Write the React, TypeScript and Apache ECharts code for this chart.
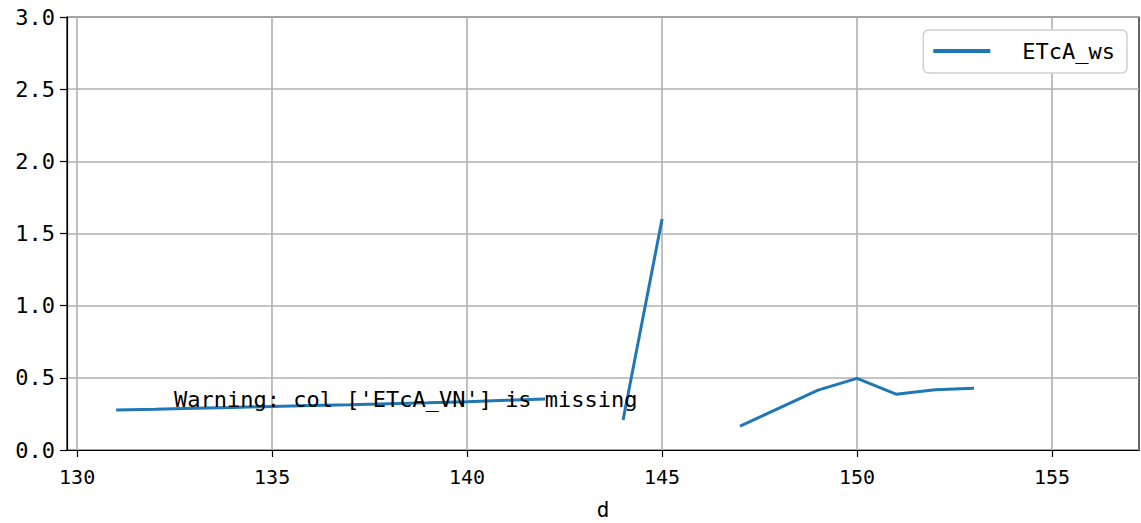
import React, { useEffect, useRef } from "react";
import * as echarts from "echarts";

const days = [131, 132, 133, 134, 135, 136, 137, 138, 139, 140, 141, 142, 143, 144, 145, 146, 147, 148, 149, 150, 151, 152, 153];
const etcaWs: (number | null)[] = [0.278, 0.283, 0.289, 0.295, 0.302, 0.308, 0.314, 0.321, 0.327, 0.334, 0.344, 0.354, null, 0.208, 1.6, null, 0.166, 0.29, 0.415, 0.496, 0.387, 0.418, 0.428];
const xTicks = [130, 135, 140, 145, 150, 155];
const seriesName = "ETcA_ws";
const xName = "d";
const warningText = "Warning: col ['ETcA_VN'] is missing";

const FONT = "DejaVu Sans Mono";

export default function App() {
  const ref = useRef<HTMLDivElement>(null);
  useEffect(() => {
    document.body.style.margin = "0";
    const chart = echarts.init(ref.current!, null, { renderer: "svg" });
    chart.setOption({
      animation: false,
      backgroundColor: "#ffffff",
      grid: {
        left: 67,
        right: 2,
        top: 17,
        bottom: 73,
        outerBoundsMode: "none",
        containLabel: false,
        show: true,
        borderColor: "#000000",
        borderWidth: 1.2,
        backgroundColor: "transparent",
      },
      legend: {
        right: 14,
        top: 30,
        itemWidth: 57,
        itemHeight: 4,
        padding: [10, 12, 11, 10],
        borderColor: "#d0d0d0",
        borderWidth: 1.5,
        borderRadius: 5,
        backgroundColor: "#ffffff",
        icon: "rect",
        textStyle: { fontFamily: FONT, fontSize: 22, color: "#000", padding: [0, 0, 0, 27] },
        data: [{ name: seriesName, icon: "rect" }],
      },
      xAxis: {
        type: "value",
        min: 129.74,
        max: 157.23,
        name: xName,
        nameLocation: "middle",
        nameGap: 49,
        nameTextStyle: { fontFamily: FONT, fontSize: 21, color: "#000" },
        axisLine: { show: true, onZero: false, lineStyle: { color: "#000", width: 1.2 } },
        axisTick: { show: true, length: 7, customValues: xTicks, lineStyle: { color: "#000", width: 1.2 } },
        axisLabel: {
          customValues: xTicks,
          fontFamily: FONT,
          fontSize: 20,
          color: "#000",
          margin: 17,
        },
        splitLine: { show: true, lineStyle: { color: "#b0b0b0", width: 1.6 } },
      },
      yAxis: {
        type: "value",
        min: 0,
        max: 3,
        interval: 0.5,
        axisLine: { show: true, lineStyle: { color: "#000", width: 1.2 } },
        axisTick: { show: true, length: 7, lineStyle: { color: "#000", width: 1.2 } },
        axisLabel: {
          fontFamily: FONT,
          fontSize: 22,
          color: "#000",
          margin: 12,
          formatter: (v: number) => v.toFixed(1),
        },
        splitLine: { show: true, lineStyle: { color: "#b0b0b0", width: 1.6 } },
      },
      series: [
        {
          name: seriesName,
          type: "line",
          data: days.map((d, i) => [d, etcaWs[i]]),
          showSymbol: false,
          connectNulls: false,
          lineStyle: { color: "#1f77b4", width: 3 },
          itemStyle: { color: "#1f77b4" },
        },
      ],
      graphic: [
        {
          type: "text",
          left: 174,
          top: 388,
          z: 100,
          style: {
            text: warningText,
            fontFamily: FONT,
            fontSize: 22,
            fill: "#000",
          },
        },
      ],
    });
    return () => chart.dispose();
  }, []);
  return <div ref={ref} style={{ width: 1141, height: 523 }} />;
}
